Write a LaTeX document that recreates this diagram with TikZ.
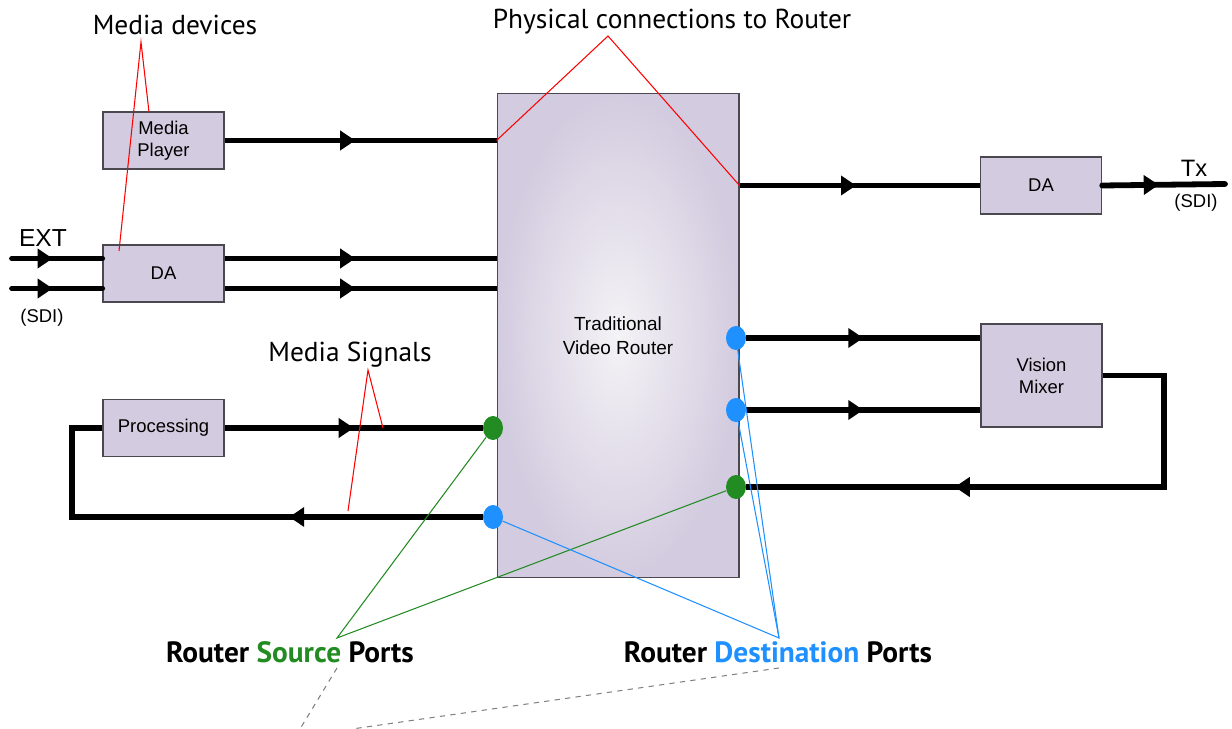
\documentclass[tikz,border=0pt]{standalone}
\usepackage{fontspec}
\setmainfont{Liberation Sans}
\newfontfamily\calloutfont{PT Sans}
\usetikzlibrary{arrows.meta,decorations.markings,shapes.geometric}
\definecolor{devfill}{RGB}{211,203,223}
\definecolor{devline}{RGB}{75,72,80}
\definecolor{routermid}{RGB}{244,243,246}
\definecolor{srcgreen}{RGB}{34,139,34}
\definecolor{dstblue}{RGB}{30,144,255}
\tikzset{
  device/.style={draw=devline,fill=devfill,line width=0.9pt,minimum width=2.42cm,minimum height=1.14cm,inner sep=0pt,align=center,font=\fontsize{10.5}{12.5}\selectfont},
  signal/.style={line width=3.3pt,postaction={decorate},decoration={markings,mark=at position #1 with {\arrow{Triangle[length=0.3cm,width=0.38cm]}}}},
  signal/.default=0.5,
  port/.style={ellipse,inner sep=0pt,minimum width=0.4cm,minimum height=0.48cm,fill=#1},
  callout/.style={font=\calloutfont\fontsize{15.6}{18}\selectfont},
  portlabel/.style={font=\calloutfont\bfseries\fontsize{16.7}{19}\selectfont},
  pointer/.style={line width=0.6pt,draw=#1},
  guide/.style={gray,line width=0.6pt,dash pattern=on 3pt off 3pt}
}
\begin{document}
\begin{tikzpicture}[x=0.02cm,y=-0.02cm]
	%%%%% START %%%%%
	\useasboundingbox (0,0) rectangle (1232,729);
	
	\node[draw=devline,line width=0.6pt,inner color=routermid,outer color=devfill,minimum width=4.84cm,minimum height=9.7cm,align=center,font=\fontsize{10.8}{13.6}\selectfont] (router) at (618,335.5) {Traditional\\Video Router};
	
	\node[device] (mp) at (163.5,140.5) {Media\\Player};
	\node[device] (daL) at (163.5,273.5) {DA};
	\node[device] (proc) at (163.5,428) {Processing};
	\node[device] (daR) at (1041,185.5) {DA};
	\node[device,minimum height=2.06cm] (vmix) at (1041.5,375.5) {Vision\\Mixer};
	
	\node[port=srcgreen] (srcA) at (493,428) {};
	\node[port=dstblue] (dstA) at (493,517) {};
	\node[port=dstblue] (dstB) at (736,338) {};
	\node[port=dstblue] (dstC) at (736,410) {};
	\node[port=srcgreen] (srcB) at (736,487) {};
	
	\coordinate (extA) at (12,258.5);
	\coordinate (extB) at (12,288.5);
	\coordinate (daLa) at ([yshift=0.3cm]daL.east);
	\coordinate (daLb) at ([yshift=-0.3cm]daL.east);
	\coordinate (loopL) at (72,517);
	\coordinate (loopR) at (1164,487);
	\coordinate (txEnd) at (1225,184);
	
	% signals
	\draw[signal=0.48] (mp.east) -- (mp.east -| router.west);
	\draw[signal=0.45,line cap=round] (extA) -- (extA -| daL.west);
	\draw[signal=0.45,line cap=round] (extB) -- (extB -| daL.west);
	\draw[signal=0.48] (daLa) -- (daLa -| router.west);
	\draw[signal=0.48] (daLb) -- (daLb -| router.west);
	\draw[signal] (proc.east) -- (srcA);
	\draw[signal=0.365] (dstA) -- (loopL) |- (proc.west);
	\draw[signal=0.485] (daR.west -| router.east) -- (daR.west);
	\draw[signal=0.46,line cap=round] (daR.east) -- (txEnd);
	\draw[signal] (dstB) -- (dstB -| vmix.west);
	\draw[signal] (dstC) -- (dstC -| vmix.west);
	\draw[signal=0.647] (vmix.east) -| (loopR) -- (srcB);
	
	\node[font=\fontsize{14}{16}\selectfont] (ext) at (43,238) {EXT};
	\node[font=\fontsize{10.5}{12}\selectfont] (sdiL) at (42,318) {(SDI)};
	\node[font=\fontsize{13.5}{16}\selectfont] (tx) at (1194,168) {Tx};
	\node[font=\fontsize{10.5}{12}\selectfont] (sdiR) at (1196,203) {(SDI)};
	
	% callouts
	\node[callout] (mdev) at (175,25) {Media devices};
	\coordinate (mdevTip) at (141,42);
	\coordinate (mdevA) at (149,112);
	\coordinate (mdevB) at (119,251);
	\draw[pointer=red] (mdevA) -- (mdevTip) -- (mdevB);
	
	\node[callout] (phys) at (672,22) {Physical connections to Router};
	\coordinate (physTip) at (608,36);
	\draw[pointer=red] (mp.east -| router.west) -- (physTip) -- (daR.west -| router.east);
	
	\node[callout] (msig) at (350,355) {Media Signals};
	\coordinate (msigTip) at (368,370);
	\coordinate (msigA) at (383,428);
	\coordinate (msigB) at (348,511);
	\draw[pointer=red] (msigA) -- (msigTip) -- (msigB);
	
	\node[portlabel] (srcLbl) at (290,652) {Router \textcolor{srcgreen}{Source} Ports};
	\node[portlabel] (dstLbl) at (778,652) {Router \textcolor{dstblue}{Destination} Ports};
	\coordinate (srcTip) at (337,638);
	\coordinate (dstTip) at (779,638);
	\draw[pointer=srcgreen] (srcA) -- (srcTip) -- (srcB);
	\draw[pointer=dstblue] (dstA) -- (dstTip) -- (dstB);
	\draw[pointer=dstblue] (dstTip) -- (dstC);
	
	\coordinate (srcFoot) at (337,668);
	\coordinate (dstFoot) at (779,668);
	\coordinate (guideA) at (300,729);
	\coordinate (guideB) at (352,729);
	\draw[guide] (srcFoot) -- (guideA);
	\draw[guide] (dstFoot) -- (guideB);
	%%%%% END %%%%%
\end{tikzpicture}
\end{document}
